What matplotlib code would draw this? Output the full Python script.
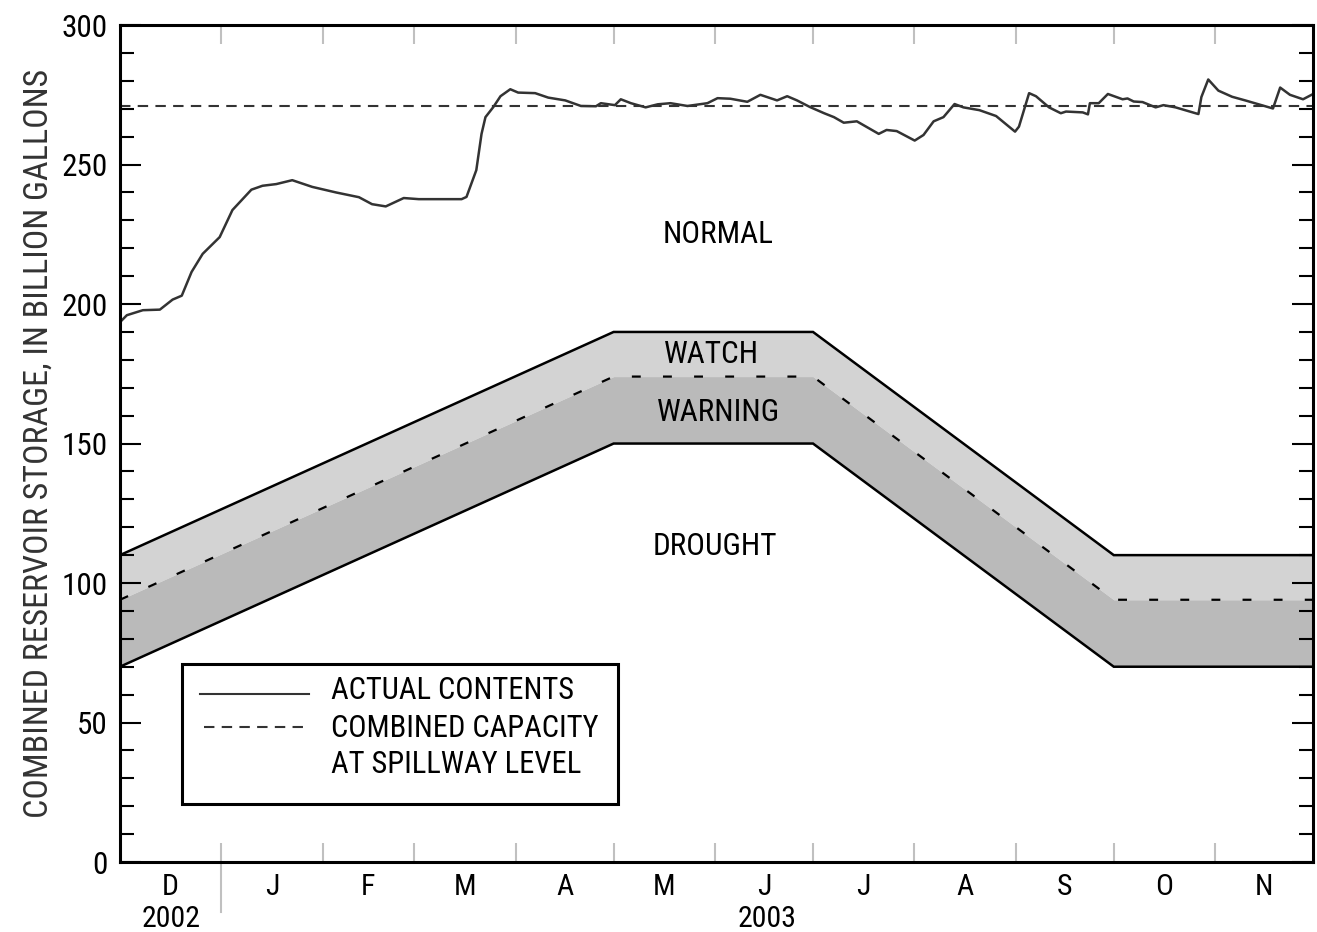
import numpy as np
import pandas as pd
import matplotlib
matplotlib.use("Agg")
import matplotlib.pyplot as plt
import matplotlib.transforms as mtransforms
from matplotlib import font_manager
from matplotlib.patches import Rectangle
from matplotlib.lines import Line2D

# days after Dec 1, 2002 and combined storage (billion gallons)
days = [0, 2.1, 7, 12.2, 16.1, 18.9, 21.9, 25.3, 30.5, 34.4, 40.2, 43.6, 47.8, 52.7,
        58.8, 66.1, 73.1, 77.1, 81.3, 86.8, 91.4, 100.5, 104.5, 106, 109, 110.6, 111.8,
        114.2, 116.4, 119.4, 121.8, 127, 131, 136.2, 141, 145.6, 147.1, 151.4, 153.2,
        156.3, 160.8, 164.5, 168.4, 173.6, 179.7, 182.8, 186.7, 191.9, 195.9, 201,
        204.1, 207.1, 211.1, 215.4, 218.4, 221.4, 225.4, 232.1, 234.5, 237.6, 243.1,
        245.8, 248.9, 251.9, 255.3, 258, 262.9, 268, 273.8, 275, 278.1, 280.2, 284.2,
        287.8, 289.4, 294.5, 296.1, 296.7, 299.4, 302.2, 306.7, 308.2, 310.1, 312.8,
        316.8, 319.2, 322.9, 329, 329.9, 330.8, 332.9, 336, 340.2, 344.2, 352.7, 354.9,
        357.9, 361.9, 364.5]
storage = [193.5, 196, 197.8, 198, 201.6, 203, 211.5, 218, 224, 233.7, 241, 242.4, 243,
           244.4, 242, 240, 238.3, 235.8, 235, 238, 237.6, 237.6, 237.6, 238.4, 248, 261,
           267, 270.6, 274.5, 277, 275.8, 275.6, 274, 273, 271, 270.9, 272, 271.3, 273.4,
           272, 270.5, 271.6, 272, 271, 272, 273.8, 273.6, 272.5, 275, 273, 274.5, 273,
           270.6, 268.4, 267, 265, 265.5, 261, 262.4, 262, 258.6, 260.6, 265.5, 267,
           271.7, 270.5, 269.5, 267.4, 261.8, 263.6, 275.6, 274.5, 270.5, 268.4, 269,
           268.7, 268, 272, 272, 275.3, 273.4, 273.7, 272.6, 272.4, 270.5, 271.3, 270.5,
           268.4, 268.1, 274.2, 280.5, 276.5, 274.3, 273, 270.1, 277.6, 275, 273.4, 275]

capacity = 271

# drought rule curves
rule_dates = ["2002-12-01", "2003-05-01", "2003-07-01", "2003-10-01", "2003-12-01"]
watch_line = [110, 190, 190, 110, 110]
warning_line = [94, 174, 174, 94, 94]
drought_line = [70, 150, 150, 70, 70]

month_letters = ["D", "J", "F", "M", "A", "M", "J", "J", "A", "S", "O", "N"]

# condensed font, like the original
names = {f.name for f in font_manager.fontManager.ttflist}
fam = "DejaVu Sans"
for cand in ["Roboto Condensed", "Archivo Narrow", "PT Sans Narrow", "Liberation Sans Narrow"]:
    if cand in names:
        fam = cand
        break
plt.rcParams["font.family"] = [fam, "DejaVu Sans"]
if fam == "DejaVu Sans":
    plt.rcParams["font.stretch"] = "condensed"

start = pd.Timestamp("2002-12-01")
t = start + pd.to_timedelta(days, unit="D")
rd = pd.to_datetime(rule_dates)

fig = plt.figure(figsize=(13.17, 9.32), dpi=100)
ax = fig.add_axes([0.0911, 0.0751, 0.906, 0.898])

ax.fill_between(rd, warning_line, watch_line, color="#d3d3d3", lw=0)
ax.fill_between(rd, drought_line, warning_line, color="#bababa", lw=0)
ax.plot(rd, watch_line, color="black", lw=1.8, solid_joinstyle="miter")
ax.plot(rd, drought_line, color="black", lw=1.8, solid_joinstyle="miter")
ax.plot(rd, warning_line, color="black", lw=1.6, dashes=(4, 10))

ax.axhline(capacity, color="#333333", lw=1.5, dashes=(5, 3.5))
ax.plot(t, storage, color="#333333", lw=1.8)

mid = pd.Timestamp("2003-06-01")
ax.text(mid + pd.Timedelta(days=1), 225, "NORMAL", ha="center", va="center", fontsize=22.5)
ax.text(mid - pd.Timedelta(days=1), 182, "WATCH", ha="center", va="center", fontsize=22.5)
ax.text(mid + pd.Timedelta(days=1), 161, "WARNING", ha="center", va="center", fontsize=22.5)
ax.text(mid, 113, "DROUGHT", ha="center", va="center", fontsize=22.5)

# axes
end = pd.Timestamp("2003-12-01")
ax.set_xlim(start, end)
ax.set_ylim(0, 300)

month_starts = pd.date_range(start, end, freq="MS")
mids = month_starts[:-1] + (month_starts[1:] - month_starts[:-1]) / 2
ax.set_xticks(month_starts[1:-1])
ax.set_xticklabels([])
ax.set_xticks(mids, minor=True)
ax.set_xticklabels(month_letters, minor=True, fontsize=21.5)
ax.tick_params(axis="x", which="major", direction="in", length=14, width=1.5,
               color="#c0c0c0", top=True, bottom=True)
ax.tick_params(axis="x", which="minor", length=0, pad=8)

ax.set_yticks(np.arange(0, 301, 50))
ax.set_yticks(np.arange(0, 301, 10), minor=True)
ax.tick_params(axis="y", which="major", direction="in", length=15, width=1.5,
               left=True, right=True, labelsize=22.5, pad=9)
ax.tick_params(axis="y", which="minor", direction="in", length=10, width=1.5,
               left=True, right=True)
for s in ax.spines.values():
    s.set_linewidth(2.2)

ax.set_ylabel("COMBINED RESERVOIR STORAGE, IN BILLION GALLONS", fontsize=24.5,
              color="#333333", labelpad=5)

# year labels and divider
trans = mtransforms.blended_transform_factory(ax.transData, ax.transAxes)
jan1 = pd.Timestamp("2003-01-01")
ax.plot([jan1, jan1], [0, -0.06], transform=trans, color="#c0c0c0", lw=1.5, clip_on=False)
ax.text(start + (jan1 - start) / 2, -0.068, "2002", transform=trans, ha="center",
        va="center", fontsize=21.5)
ax.text(jan1 + (end - jan1) / 2, -0.068, "2003", transform=trans, ha="center",
        va="center", fontsize=21.5)

# legend box
ax.add_patch(Rectangle((0.052, 0.069), 0.365, 0.167, transform=ax.transAxes,
                       fill=True, facecolor="white", edgecolor="black", lw=2.2, zorder=5))
ax.add_line(Line2D([0.067, 0.158], [0.2005, 0.2005], transform=ax.transAxes,
                   color="#333333", lw=1.5, zorder=6))
ax.add_line(Line2D([0.070, 0.158], [0.161, 0.161], transform=ax.transAxes,
                   color="#333333", lw=1.5, dashes=(5, 3.5), zorder=6))
for yy, txt in [(0.2045, "ACTUAL CONTENTS"), (0.160, "COMBINED CAPACITY"),
                (0.117, "AT SPILLWAY LEVEL")]:
    ax.text(0.177, yy, txt, transform=ax.transAxes, ha="left", va="center",
            fontsize=22, zorder=6)

fig.savefig("out.png", dpi=100)
